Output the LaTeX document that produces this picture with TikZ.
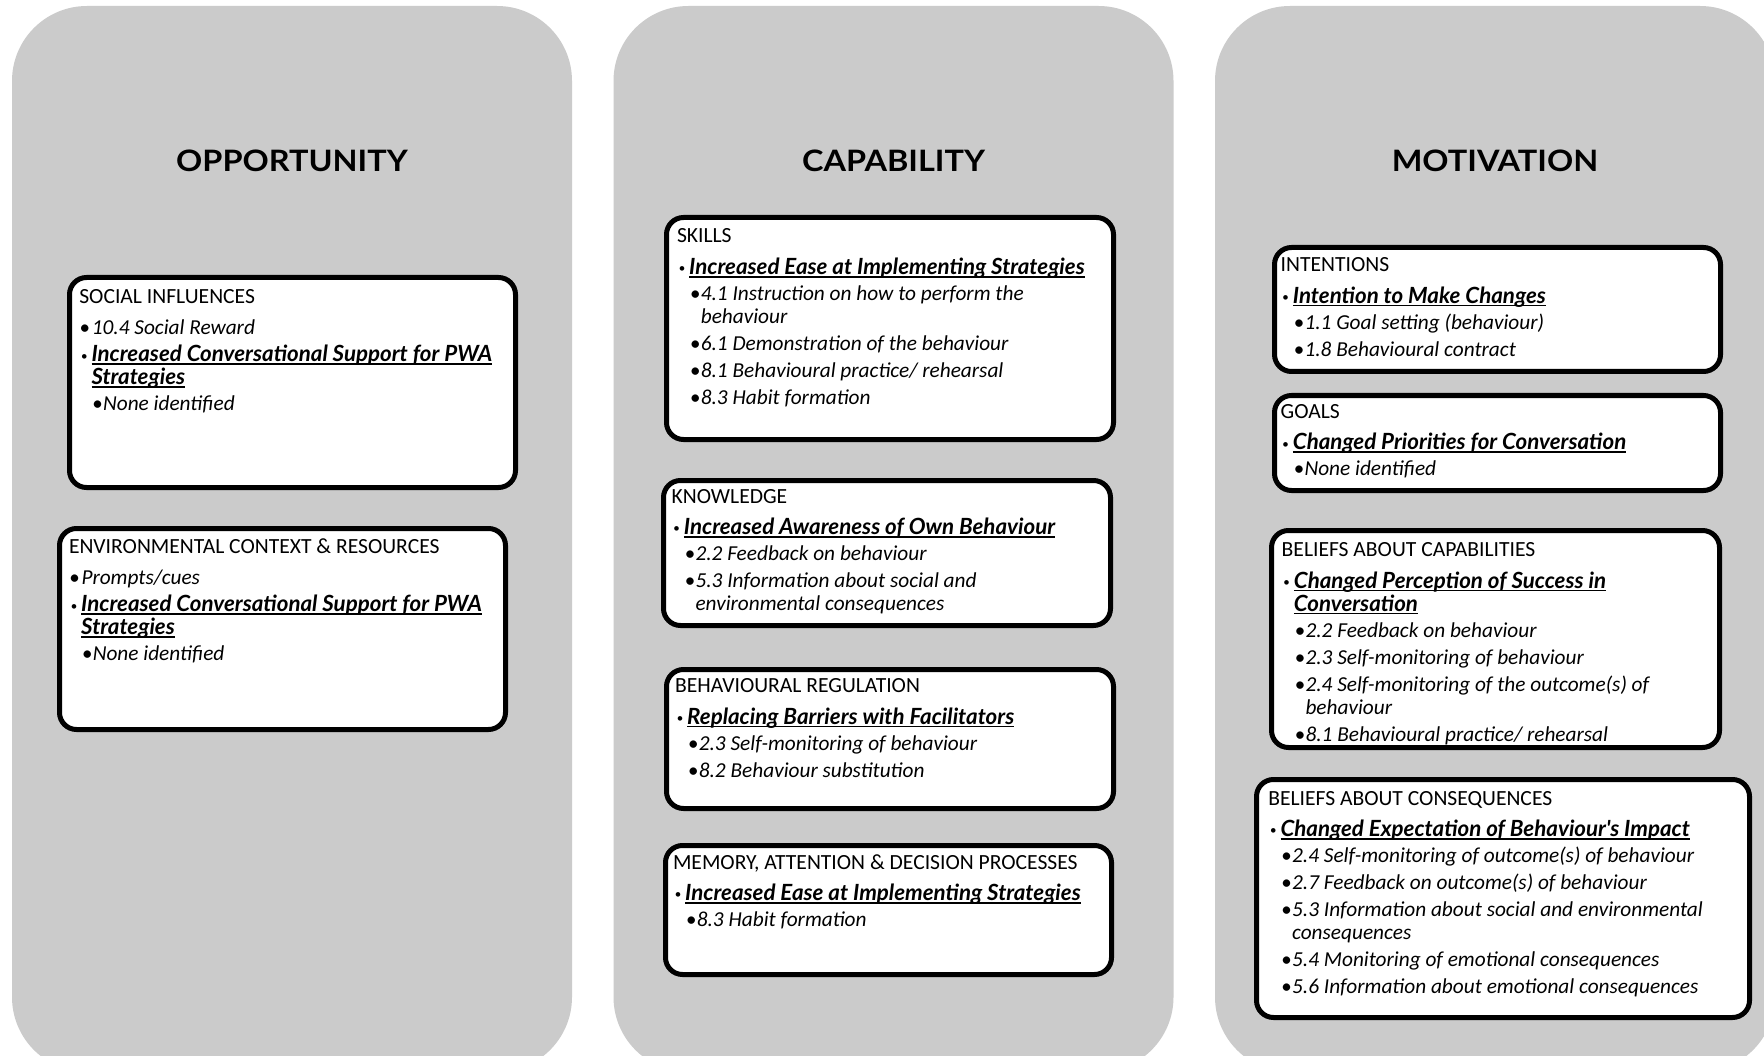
\documentclass[tikz,border=0pt]{standalone}
\usepackage{graphicx}
\usepackage{fontspec}
\setmainfont{Carlito}
\newfontfamily\hdfnt{Carlito}
\newfontfamily\bofnt{Lato}[Ligatures=TeXOff]
\newfontfamily\ttlfnt{Lato}
\definecolor{panelgray}{RGB}{203,203,203}

% underline at a fixed depth below the baseline
\newcommand\tdful[1]{\setbox0=\hbox{#1}\rlap{\vrule height -1.6pt depth 3.1pt width \wd0}\box0}
% large and small bullets, centred on the current point
\newcommand\tdfbig{\makebox[0pt]{\hdfnt\fontsize{21pt}{21pt}\selectfont\textbullet}}
\newcommand\tdfsmall{\makebox[0pt]{\raisebox{1.6pt}{\hdfnt\fontsize{13pt}{13pt}\selectfont\textbullet}}}
% fonts of the three text kinds
\newcommand\tdfbold{\bofnt\bfseries\itshape\fontsize{22.3pt}{23pt}\selectfont}
\newcommand\tdfit{\itshape\fontsize{21.3pt}{23pt}\selectfont}
% domain heading, top-level item, underlined outcome, technique item
\newcommand\tdfH[1]{\hbox{\hdfnt\fontsize{21.6pt}{23pt}\selectfont #1}\vskip8.5pt}
\newcommand\tdfT[1]{\hbox{\hskip5.5pt\tdfbig\hskip7pt{\tdfit #1}}\vskip4pt}
\NewDocumentCommand\tdfB{m o}{\hbox{\hskip5pt\tdfsmall\hskip7.2pt{\tdfbold\tdful{#1}}}%
  \IfValueT{#2}{\hbox{\hskip12.2pt{\tdfbold\tdful{#2}}}}\vskip3pt}
\NewDocumentCommand\tdfS{m o}{\hbox{\hskip18.4pt\tdfbig\hskip5.4pt{\tdfit #1}}%
  \IfValueT{#2}{\hbox{\hskip23.8pt{\tdfit #2}}}\vskip4pt}
\newcommand\tdflist[1]{\vtop{\baselineskip=23pt\lineskiplimit=-100pt\lineskip=0pt #1}}

\tikzset{
  panel/.style={fill=panelgray, draw=none, rounded corners=75pt, inner sep=0pt, outer sep=0pt},
  ttl/.style={anchor=base, inner sep=0pt, font=\ttlfnt\bfseries\fontsize{29.5pt}{30pt}\selectfont},
  tdfbox/.style={draw=black, line width=5pt, fill=white, rounded corners=17pt, inner sep=0pt, outer sep=0pt},
  txt/.style={anchor=base west, inner sep=0pt, outer sep=0pt, font=\fontsize{21pt}{23pt}\selectfont}
}
% frame given by its outer edges: name, x1, y1, x2, y2
\newcommand\tdfframe[5]{\node[tdfbox, minimum width={#4-#2-5}, minimum height={#5-#3-5}] (#1) at ({(#2+#4)/2},{(#3+#5)/2}) {};}

\begin{document}
\begin{tikzpicture}[x=1pt, y=-1pt]
\path[use as bounding box, fill=white] (0,0) rectangle (1764,1056);
\clip (0,0) rectangle (1764,1056);

% three COM-B columns
\node[panel, minimum width=560, minimum height=1066] (pOpp) at (292,539) {};
\node[panel, minimum width=560, minimum height=1066] (pCap) at (893.5,539) {};
\node[panel, minimum width=560, minimum height=1066] (pMot) at (1495,539) {};

\node[ttl] (tOpp) at (292,172) {\scalebox{1.1}[1]{OPPORTUNITY}};
\node[ttl] (tCap) at (893.5,172) {\scalebox{1.1}[1]{CAPABILITY}};
\node[ttl] (tMot) at (1495,172) {\scalebox{1.1}[1]{MOTIVATION}};

% Opportunity
\tdfframe{si}{67}{275}{518}{490}
\node[txt] (siT) at (79.3,303.3) {\tdflist{%
  \tdfH{SOCIAL INFLUENCES}
  \tdfT{10.4 Social Reward}
  \tdfB{Increased Conversational Support for PWA}[Strategies]
  \tdfS{None identified}}};

\tdfframe{env}{57}{526}{508}{732}
\node[txt] (envT) at (69,553.3) {\tdflist{%
  \tdfH{ENVIRONMENTAL CONTEXT \& RESOURCES}
  \tdfT{Prompts/cues}
  \tdfB{Increased Conversational Support for PWA}[Strategies]
  \tdfS{None identified}}};

% Capability
\tdfframe{skl}{664}{215}{1116}{442}
\node[txt] (sklT) at (677,243) {\tdflist{%
  \tdfH{SKILLS}
  \tdfB{Increased Ease at Implementing Strategies}
  \tdfS{4.1 Instruction on how to perform the}[behaviour]
  \tdfS{6.1 Demonstration of the behaviour}
  \tdfS{8.1 Behavioural practice/ rehearsal}
  \tdfS{8.3 Habit formation}}};

\tdfframe{knw}{661}{478}{1113}{628}
\node[txt] (knwT) at (671.7,503) {\tdflist{%
  \tdfH{KNOWLEDGE}
  \tdfB{Increased Awareness of Own Behaviour}
  \tdfS{2.2 Feedback on behaviour}
  \tdfS{5.3 Information about social and}[environmental consequences]}};

\tdfframe{beh}{664}{667}{1116}{811}
\node[txt] (behT) at (675,692.7) {\tdflist{%
  \tdfH{BEHAVIOURAL REGULATION}
  \tdfB{Replacing Barriers with Facilitators}
  \tdfS{2.3 Self-monitoring of behaviour}
  \tdfS{8.2 Behaviour substitution}}};

\tdfframe{mem}{663}{843}{1114}{977}
\node[txt] (memT) at (673,869) {\tdflist{%
  \tdfH{MEMORY, ATTENTION \& DECISION PROCESSES}
  \tdfB{Increased Ease at Implementing Strategies}
  \tdfS{8.3 Habit formation}}};

% Motivation
\tdfframe{itn}{1272}{245}{1723}{374}
\node[txt] (itnT) at (1280.7,271.7) {\tdflist{%
  \tdfH{INTENTIONS}
  \tdfB{Intention to Make Changes}
  \tdfS{1.1 Goal setting (behaviour)}
  \tdfS{1.8 Behavioural contract}}};

\tdfframe{gls}{1272}{393}{1723}{493}
\node[txt] (glsT) at (1280.7,418.3) {\tdflist{%
  \tdfH{GOALS}
  \tdfB{Changed Priorities for Conversation}
  \tdfS{None identified}}};

\tdfframe{bac}{1269}{528}{1722}{750}
\node[txt] (bacT) at (1281.7,556.7) {\tdflist{%
  \tdfH{BELIEFS ABOUT CAPABILITIES}
  \tdfB{Changed Perception of Success in}[Conversation]
  \tdfS{2.2 Feedback on behaviour}
  \tdfS{2.3 Self-monitoring of behaviour}
  \tdfS{2.4 Self-monitoring of the outcome(s) of}[behaviour]
  \tdfS{8.1 Behavioural practice/ rehearsal}}};

\tdfframe{bcn}{1254}{777}{1752}{1020}
\node[txt] (bcnT) at (1268.3,805) {\tdflist{%
  \tdfH{BELIEFS ABOUT CONSEQUENCES}
  \tdfB{Changed Expectation of Behaviour's Impact}
  \tdfS{2.4 Self-monitoring of outcome(s) of behaviour}
  \tdfS{2.7 Feedback on outcome(s) of behaviour}
  \tdfS{5.3 Information about social and environmental}[consequences]
  \tdfS{5.4 Monitoring of emotional consequences}
  \tdfS{5.6 Information about emotional consequences}}};
\end{tikzpicture}
\end{document}
